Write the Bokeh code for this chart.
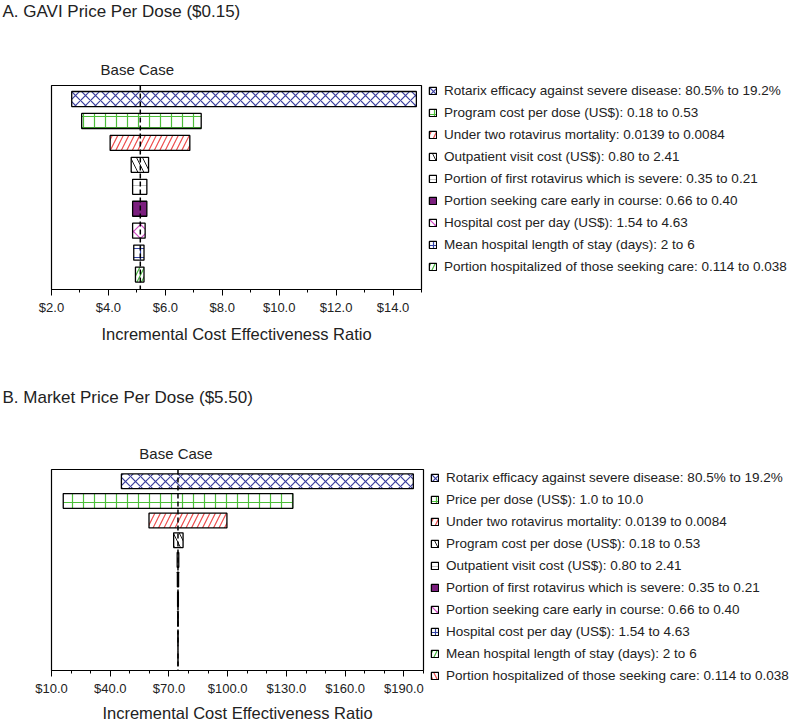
from bokeh.plotting import figure
from bokeh.models import (Range1d, FixedTicker, NumeralTickFormatter, Span,
                          Legend, LegendItem, ColumnDataSource, Title)
from bokeh.layouts import column
from bokeh.embed import file_html
from bokeh.resources import INLINE

FONT = "Liberation Sans"

# ---------------- data: panel A ----------------
title_a = "A.  GAVI Price Per Dose ($0.15)"
params_a = [
    "Rotarix efficacy against severe disease: 80.5% to 19.2%",
    "Program cost per dose (US$): 0.18 to 0.53",
    "Under two rotavirus mortality: 0.0139 to 0.0084",
    "Outpatient visit cost (US$): 0.80 to 2.41",
    "Portion of first rotavirus which is severe: 0.35 to 0.21",
    "Portion seeking care early in course: 0.66 to 0.40",
    "Hospital cost per day (US$): 1.54 to 4.63",
    "Mean hospital length of stay (days): 2 to 6",
    "Portion hospitalized of those seeking care: 0.114 to 0.038",
]
low_a = [2.71, 3.06, 4.06, 4.80, 4.85, 4.85, 4.85, 4.89, 4.95]
high_a = [14.82, 7.26, 6.86, 5.41, 5.35, 5.35, 5.29, 5.25, 5.25]
base_a = 5.12
ticks_a = [2, 4, 6, 8, 10, 12, 14]
minor_ticks_a = [2, 3, 4, 5, 6, 7, 8, 9, 10, 11, 12, 13, 14, 15]
xlim_a = (2, 15)

# ---------------- data: panel B ----------------
title_b = "B.  Market Price Per Dose ($5.50)"
params_b = [
    "Rotarix efficacy against severe disease: 80.5% to 19.2%",
    "Price per dose (US$): 1.0 to 10.0",
    "Under two rotavirus mortality: 0.0139 to 0.0084",
    "Program cost per dose (US$): 0.18 to 0.53",
    "Outpatient visit cost (US$): 0.80 to 2.41",
    "Portion of first rotavirus which is severe: 0.35 to 0.21",
    "Portion seeking care early in course: 0.66 to 0.40",
    "Hospital cost per day (US$): 1.54 to 4.63",
    "Mean hospital length of stay (days): 2 to 6",
    "Portion hospitalized of those seeking care: 0.114 to 0.038",
]
low_b = [45.7, 16.0, 59.8, 72.4, 74.2, 74.3, 74.4, 74.45, 74.5, 74.55]
high_b = [194.8, 133.3, 99.6, 77.2, 75.0, 74.9, 74.8, 74.75, 74.7, 74.65]
base_b = 74.6
ticks_b = [10, 40, 70, 100, 130, 160, 190]
minor_ticks_b = [10, 20, 30, 40, 50, 60, 70, 80, 90, 100, 110, 120, 130, 140,
                 150, 160, 170, 180, 190, 200]
xlim_b = (10, 200)

x_label = "Incremental Cost Effectiveness Ratio"
base_label = "Base Case"
BASE_LABEL_EM = 4.891   # approx. width of "Base Case" in em (Arial metrics)

# ---------------- styles ----------------
STY = {
    "blue_x":  dict(fill="white", hatch="x", hc="#3A3E9E", hs=10, hw=1.2),
    "green_p": dict(fill="white", hatch="+", hc="#4DBF3A", hs=11, hw=1.2),
    "red_d":   dict(fill="white", hatch="/", hc="#EE4C4C", hs=11, hw=1.2),
    "black_b": dict(fill="white", hatch="\\", hc="#202020", hs=12, hw=1.0),
    "white_h": dict(fill="white", hatch="-", hc="#B0B0B0", hs=9, hw=0.8),
    "purple":  dict(fill="#7B1F7E", hatch=" ", hc="#7B1F7E", hs=10, hw=1.0),
    "pink_x":  dict(fill="white", hatch="x", hc="#D048C4", hs=14, hw=1.2),
    "blue_p":  dict(fill="white", hatch="+", hc="#3344A8", hs=9, hw=1.2),
    "green_d": dict(fill="white", hatch="/", hc="#48B840", hs=9, hw=1.2),
    "red_b":   dict(fill="white", hatch="\\", hc="#EE4C4C", hs=9, hw=1.2),
}
style_a = ["blue_x", "green_p", "red_d", "black_b", "white_h", "purple",
           "pink_x", "blue_p", "green_d"]
style_b = ["blue_x", "green_p", "red_d", "black_b", "white_h", "purple",
           "pink_x", "blue_p", "green_d", "red_b"]


def make_panel(title, params, low, high, base, xlim, ticks, minor, styles, g):
    n = len(params)
    fl, fw, fh = g["fl"], g["fw"], g["fh"]
    p = figure(frame_width=fw, frame_height=fh, output_backend="svg",
               toolbar_location=None, title=None,
               x_range=Range1d(*xlim),
               y_range=Range1d(start=g["ybot"], end=g["ytop"]),
               y_axis_location=None)
    p.min_border_left = fl
    p.min_border_right = 0
    p.min_border_top = 0
    p.min_border_bottom = g["bb"]
    p.xgrid.visible = False
    p.ygrid.visible = False
    p.outline_line_color = "black"
    p.outline_line_width = 1.2

    src = ColumnDataSource(dict(
        y=list(range(n)), left=low, right=high,
        fill=[STY[s]["fill"] for s in styles],
        hatch=[STY[s]["hatch"] for s in styles],
        hc=[STY[s]["hc"] for s in styles],
        hs=[STY[s]["hs"] for s in styles],
        hw=[STY[s]["hw"] for s in styles],
    ))
    r = p.hbar(y="y", left="left", right="right", height=g["bh"], source=src,
               fill_color="fill", hatch_pattern="hatch", hatch_color="hc",
               hatch_scale="hs", hatch_weight="hw",
               line_color="black", line_width=1.3)

    p.add_layout(Span(location=base, dimension="height", line_color="black",
                      line_width=1.5, line_dash="5 3"))

    ax = p.xaxis[0]
    ax.ticker = FixedTicker(ticks=ticks, minor_ticks=minor)
    ax.formatter = NumeralTickFormatter(format="$0.0")
    ax.axis_line_color = "black"
    ax.axis_line_width = 1.2
    ax.major_tick_in = 0
    ax.major_tick_out = 6
    ax.minor_tick_in = 0
    ax.minor_tick_out = 3
    ax.major_tick_line_color = "black"
    ax.minor_tick_line_color = "black"
    ax.major_label_text_font = FONT
    ax.major_label_text_font_size = "13px"
    ax.major_label_text_color = "#222222"
    ax.major_label_standoff = 4
    ax.axis_label = x_label
    ax.axis_label_text_font = FONT
    ax.axis_label_text_font_size = "16.5px"
    ax.axis_label_text_font_style = "normal"
    ax.axis_label_text_color = "#222222"
    ax.axis_label_standoff = g["als"]

    items = [LegendItem(label=params[i], renderers=[r], index=i) for i in range(n)]
    leg = Legend(items=items, location=(g["leg_vx"], g["leg_vy"]),
                 orientation="vertical", glyph_width=9, glyph_height=9,
                 label_height=g["leg_pitch"], spacing=0, padding=0, margin=0,
                 label_standoff=7, label_text_font=FONT,
                 label_text_font_size="13.5px", label_text_color="#222222",
                 border_line_alpha=0, background_fill_alpha=0)
    p.add_layout(leg, "right")

    # "Base Case" heading, closest to the frame
    px_base = (base - xlim[0]) / (xlim[1] - xlim[0]) * fw
    bc_off = px_base + g["bc_dx"] - 0.5 * BASE_LABEL_EM * 15
    p.add_layout(Title(text=base_label, align="left", offset=bc_off,
                       vertical_align="bottom", standoff=g["bc_so"],
                       text_font=FONT, text_font_size="15px",
                       text_font_style="normal", text_color="#222222"), "above")
    # spacer
    p.add_layout(Title(text="\u00a0", standoff=g["sp_so"], text_font=FONT,
                       text_font_size="16px"), "above")
    # panel heading
    p.add_layout(Title(text=title, align="left", offset=-(fl - 2),
                       vertical_align="top", standoff=g["t_so"],
                       text_font=FONT, text_font_size="17px",
                       text_font_style="normal", text_color="#222222"), "above")
    return p


geom_a = dict(fl=51, fw=370, fh=204, bb=97, ytop=-0.616, ybot=8.68, bh=0.685,
              als=7, leg_vx=7, leg_vy=12, leg_pitch=22,
              bc_dx=-3, bc_so=16, sp_so=8, t_so=2)
geom_b = dict(fl=51, fw=372, fh=201, bb=50, ytop=-0.6, ybot=9.63, bh=0.75,
              als=5, leg_vx=7, leg_vy=-16, leg_pitch=22,
              bc_dx=-2, bc_so=15, sp_so=7, t_so=2)

pa = make_panel(title_a, params_a, low_a, high_a, base_a, xlim_a, ticks_a,
                minor_ticks_a, style_a, geom_a)
pb = make_panel(title_b, params_b, low_b, high_b, base_b, xlim_b, ticks_b,
                minor_ticks_b, style_b, geom_b)

layout = column(pa, pb, spacing=0)
open("out.html", "w").write(file_html(layout, INLINE))
